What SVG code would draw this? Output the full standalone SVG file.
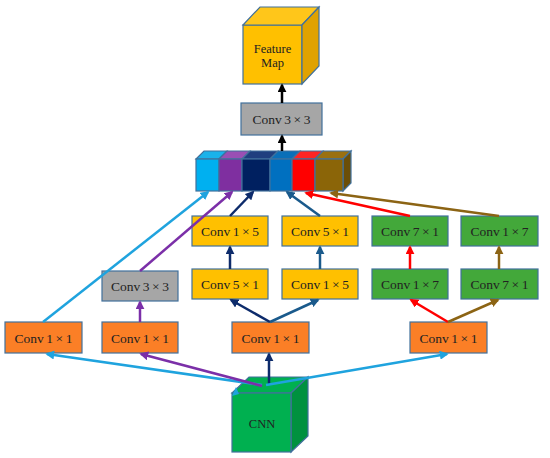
<svg xmlns="http://www.w3.org/2000/svg" width="550" height="458" viewBox="0 0 550 458">
<style>
.b{stroke:#41719C;stroke-width:1.2}
.or{fill:#FB7F26}
.ye{fill:#FFC000}
.gr{fill:#43A83A}
.gy{fill:#A6A6A6}
.t{font-family:"Liberation Serif","Times New Roman",serif;font-size:13.5px;word-spacing:-0.8px;fill:#222;text-anchor:middle}
.s{font-size:12.5px}
.c{fill:none;stroke-width:2.5}
</style>
<defs>
<marker id="aK" viewBox="0 0 10 10" refX="8" refY="5" markerUnits="userSpaceOnUse" markerWidth="9" markerHeight="9" orient="auto"><path d="M0,0 L10,5 L0,10 z" fill="#000"/></marker>
<marker id="aL" viewBox="0 0 10 10" refX="8" refY="5" markerUnits="userSpaceOnUse" markerWidth="9" markerHeight="9" orient="auto"><path d="M0,0 L10,5 L0,10 z" fill="#1FA3DE"/></marker>
<marker id="aP" viewBox="0 0 10 10" refX="8" refY="5" markerUnits="userSpaceOnUse" markerWidth="9" markerHeight="9" orient="auto"><path d="M0,0 L10,5 L0,10 z" fill="#7B2FA8"/></marker>
<marker id="aN" viewBox="0 0 10 10" refX="8" refY="5" markerUnits="userSpaceOnUse" markerWidth="9" markerHeight="9" orient="auto"><path d="M0,0 L10,5 L0,10 z" fill="#0D2B6B"/></marker>
<marker id="aB" viewBox="0 0 10 10" refX="8" refY="5" markerUnits="userSpaceOnUse" markerWidth="9" markerHeight="9" orient="auto"><path d="M0,0 L10,5 L0,10 z" fill="#1A5A8C"/></marker>
<marker id="aR" viewBox="0 0 10 10" refX="8" refY="5" markerUnits="userSpaceOnUse" markerWidth="9" markerHeight="9" orient="auto"><path d="M0,0 L10,5 L0,10 z" fill="#FF0000"/></marker>
<marker id="aW" viewBox="0 0 10 10" refX="8" refY="5" markerUnits="userSpaceOnUse" markerWidth="9" markerHeight="9" orient="auto"><path d="M0,0 L10,5 L0,10 z" fill="#8C6414"/></marker>
</defs>

<g id="feature-map">
<rect class="b" x="243" y="25" width="59" height="59" fill="#FFC000"/>
<polygon class="b" points="243,25 260,7 319,7 302,25" fill="#FFC61A"/>
<polygon class="b" points="302,25 319,7 319,66 302,84" fill="#E0A200"/>
<text class="t s" x="272.5" y="53">Feature</text>
<text class="t s" x="272.5" y="67">Map</text>
</g>

<g id="conv3x3-top">
<rect class="b gy" x="241" y="103" width="81" height="32"/>
<text class="t" x="281.5" y="124">Conv 3 × 3</text>
</g>

<g id="concat">
<polygon class="b" points="196,159 204,151 227,151 219,159" fill="#1AB2EA"/>
<polygon class="b" points="219,159 227,151 250,151 242,159" fill="#9A4FB4"/>
<polygon class="b" points="242,159 250,151 278,151 270,159" fill="#203F7F"/>
<polygon class="b" points="270,159 278,151 300,151 292,159" fill="#0A6FB8"/>
<polygon class="b" points="292,159 300,151 323,151 315,159" fill="#FF2424"/>
<polygon class="b" points="315,159 323,151 351,151 343,159" fill="#9A7010"/>
<polygon class="b" points="343,159 351,151 351,183 343,191" fill="#6B4E08"/>
<rect class="b" x="196" y="159" width="23" height="32" fill="#00B0F0"/>
<rect class="b" x="219" y="159" width="23" height="32" fill="#7F2FA0"/>
<rect class="b" x="242" y="159" width="28" height="32" fill="#002060"/>
<rect class="b" x="270" y="159" width="22" height="32" fill="#0070C0"/>
<rect class="b" x="292" y="159" width="23" height="32" fill="#FF0000"/>
<rect class="b" x="315" y="159" width="28" height="32" fill="#8B6508"/>
</g>

<g id="y-1x5-a"><rect class="b ye" x="192" y="216" width="76" height="30"/><text class="t" x="230" y="236">Conv 1 × 5</text></g>
<g id="y-5x1-a"><rect class="b ye" x="192" y="269" width="76" height="30"/><text class="t" x="230" y="289">Conv 5 × 1</text></g>
<g id="y-5x1-b"><rect class="b ye" x="282" y="216" width="76" height="30"/><text class="t" x="320" y="236">Conv 5 × 1</text></g>
<g id="y-1x5-b"><rect class="b ye" x="282" y="269" width="76" height="30"/><text class="t" x="320" y="289">Conv 1 × 5</text></g>
<g id="g-7x1-a"><rect class="b gr" x="372" y="216" width="76" height="30"/><text class="t" x="410" y="236">Conv 7 × 1</text></g>
<g id="g-1x7-a"><rect class="b gr" x="372" y="269" width="76" height="30"/><text class="t" x="410" y="289">Conv 1 × 7</text></g>
<g id="g-1x7-b"><rect class="b gr" x="461" y="216" width="77" height="30"/><text class="t" x="499.5" y="236">Conv 1 × 7</text></g>
<g id="g-7x1-b"><rect class="b gr" x="461" y="269" width="77" height="30"/><text class="t" x="499.5" y="289">Conv 7 × 1</text></g>
<g id="gray-3x3"><rect class="b gy" x="102" y="271" width="76" height="30"/><text class="t" x="140" y="291">Conv 3 × 3</text></g>

<g id="o-1"><rect class="b or" x="5" y="322" width="77" height="31"/><text class="t" x="43.5" y="343">Conv 1 × 1</text></g>
<g id="o-2"><rect class="b or" x="102" y="322" width="76" height="31"/><text class="t" x="140" y="343">Conv 1 × 1</text></g>
<g id="o-3"><rect class="b or" x="232" y="322" width="77" height="31"/><text class="t" x="270.5" y="343">Conv 1 × 1</text></g>
<g id="o-4"><rect class="b or" x="410" y="322" width="77" height="31"/><text class="t" x="448.5" y="343">Conv 1 × 1</text></g>

<g id="cnn">
<polygon class="b" points="232,393 249,377 308,377 291,393" fill="#00B050"/>
<polygon class="b" points="291,393 308,377 308,436 291,452" fill="#00913F"/>
<rect class="b" x="232" y="393" width="59" height="59" fill="#00B050"/>
<text class="t s" x="262" y="428">CNN</text>
</g>

<g id="connectors">
<line class="c" stroke="#000" x1="282" y1="151" x2="282" y2="136" marker-end="url(#aK)"/>
<line class="c" stroke="#000" x1="282" y1="103" x2="282" y2="85" marker-end="url(#aK)"/>
<line class="c" stroke="#1FA3DE" x1="262" y1="385" x2="47" y2="354" marker-end="url(#aL)"/>
<line class="c" stroke="#7B2FA8" x1="262" y1="386" x2="141" y2="354" marker-end="url(#aP)"/>
<line class="c" stroke="#0D2B6B" x1="269" y1="385" x2="269" y2="354" marker-end="url(#aN)"/>
<line class="c" stroke="#1FA3DE" x1="266" y1="385" x2="447" y2="354" marker-end="url(#aL)"/>
<polygon points="232,396 236,387 239,394" fill="#1FA3DE"/>
<line class="c" stroke="#7B2FA8" x1="140" y1="322" x2="140" y2="302" marker-end="url(#aP)"/>
<line class="c" stroke="#1FA3DE" x1="43" y1="322" x2="208" y2="192" marker-end="url(#aL)"/>
<line class="c" stroke="#7B2FA8" x1="140" y1="271" x2="232" y2="192" marker-end="url(#aP)"/>
<line class="c" stroke="#0D2B6B" x1="270" y1="322" x2="231" y2="300" marker-end="url(#aN)"/>
<line class="c" stroke="#1A5A8C" x1="270" y1="322" x2="318" y2="300" marker-end="url(#aB)"/>
<line class="c" stroke="#0D2B6B" x1="230" y1="269" x2="230" y2="247" marker-end="url(#aN)"/>
<line class="c" stroke="#1A5A8C" x1="320" y1="269" x2="320" y2="247" marker-end="url(#aB)"/>
<line class="c" stroke="#0D2B6B" x1="230" y1="216" x2="253" y2="192" marker-end="url(#aN)"/>
<line class="c" stroke="#1A5A8C" x1="320" y1="216" x2="287" y2="192" marker-end="url(#aB)"/>
<line class="c" stroke="#FF0000" x1="448" y1="322" x2="411" y2="300" marker-end="url(#aR)"/>
<line class="c" stroke="#8C6414" x1="448" y1="322" x2="498" y2="300" marker-end="url(#aW)"/>
<line class="c" stroke="#FF0000" x1="410" y1="269" x2="410" y2="247" marker-end="url(#aR)"/>
<line class="c" stroke="#8C6414" x1="499" y1="269" x2="499" y2="247" marker-end="url(#aW)"/>
<line class="c" stroke="#FF0000" x1="410" y1="216" x2="306" y2="193" marker-end="url(#aR)"/>
<line class="c" stroke="#8C6414" x1="499" y1="216" x2="331" y2="193" marker-end="url(#aW)"/>
</g>
</svg>
